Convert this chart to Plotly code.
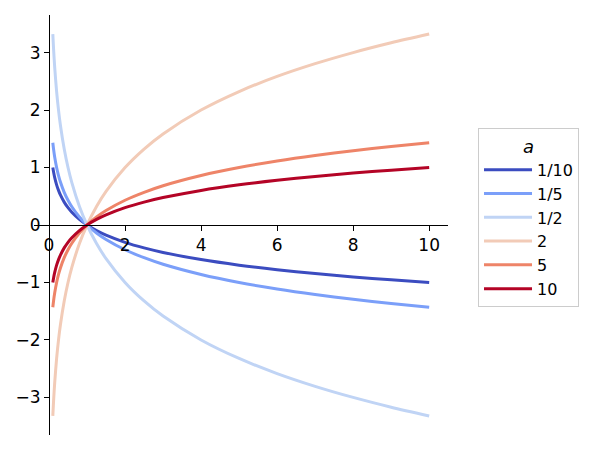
import plotly.graph_objects as go

# x sample positions
x_vals = [0.1, 0.12, 0.15, 0.2, 0.25, 0.3, 0.4, 0.5, 0.6, 0.8, 1, 1.25, 1.5, 2, 2.5, 3, 4, 5, 6, 7, 8, 9, 10]

# series values
y_a_1_10 = [1.000, 0.921, 0.824, 0.699, 0.602, 0.523, 0.398, 0.301, 0.222, 0.097, 0, -0.097, -0.176, -0.301, -0.398, -0.477, -0.602, -0.699, -0.778, -0.845, -0.903, -0.954, -1.000]
y_a_1_5 = [1.431, 1.317, 1.179, 1.000, 0.861, 0.748, 0.569, 0.431, 0.317, 0.139, 0, -0.139, -0.252, -0.431, -0.569, -0.683, -0.861, -1.000, -1.113, -1.209, -1.292, -1.365, -1.431]
y_a_1_2 = [3.322, 3.059, 2.737, 2.322, 2.000, 1.737, 1.322, 1.000, 0.737, 0.322, 0, -0.322, -0.585, -1.000, -1.322, -1.585, -2.000, -2.322, -2.585, -2.807, -3.000, -3.170, -3.322]
y_a_2 = [-3.322, -3.059, -2.737, -2.322, -2.000, -1.737, -1.322, -1.000, -0.737, -0.322, 0, 0.322, 0.585, 1.000, 1.322, 1.585, 2.000, 2.322, 2.585, 2.807, 3.000, 3.170, 3.322]
y_a_5 = [-1.431, -1.317, -1.179, -1.000, -0.861, -0.748, -0.569, -0.431, -0.317, -0.139, 0, 0.139, 0.252, 0.431, 0.569, 0.683, 0.861, 1.000, 1.113, 1.209, 1.292, 1.365, 1.431]
y_a_10 = [-1.000, -0.921, -0.824, -0.699, -0.602, -0.523, -0.398, -0.301, -0.222, -0.097, 0, 0.097, 0.176, 0.301, 0.398, 0.477, 0.602, 0.699, 0.778, 0.845, 0.903, 0.954, 1.000]

series_names = ["1/10", "1/5", "1/2", "2", "5", "10"]
series_values = [y_a_1_10, y_a_1_5, y_a_1_2, y_a_2, y_a_5, y_a_10]
series_colors = ["#3b4cc0", "#7b9ff9", "#c0d4f5", "#f2cbb7", "#ee8468", "#b40426"]

x_ticks = [0, 2, 4, 6, 8, 10]
y_ticks = [-3, -2, -1, 0, 1, 2, 3]

x_range = [-0.395, 10.495]
y_range = [-3.654, 3.654]

fig = go.Figure()
for name, ys, col in zip(series_names, series_values, series_colors):
    fig.add_trace(go.Scatter(
        x=x_vals, y=ys, mode="lines", name=name,
        line=dict(color=col, width=3, shape="spline", smoothing=0.8),
    ))

font = dict(family="DejaVu Sans", size=17, color="black")
legend_font = dict(family="DejaVu Sans", size=16, color="black")
y_pos = (0 - x_range[0]) / (x_range[1] - x_range[0])

fig.update_layout(
    width=600, height=450,
    margin=dict(l=26, r=160, t=7, b=23, autoexpand=False),
    plot_bgcolor="white", paper_bgcolor="white",
    font=font,
    showlegend=True,
    legend=dict(
        title=dict(text="<i>a</i>", side="top center", font=dict(family="DejaVu Sans", size=18)),
        x=1.0725, xanchor="left", y=0.517, yanchor="middle",
        bordercolor="#cccccc", borderwidth=1,
        font=legend_font, tracegroupgap=0, itemwidth=48,
    ),
    xaxis=dict(
        range=x_range, domain=[0, 1], anchor="free", position=0.5, automargin=False,
        tickvals=x_ticks, ticks="outside", ticklen=5, tickwidth=1, tickcolor="black",
        showline=True, linecolor="black", linewidth=1,
        showgrid=False, zeroline=False, tickfont=font,
    ),
    yaxis=dict(
        range=y_range, domain=[0, 1], anchor="free", position=y_pos, automargin=False,
        tickvals=y_ticks, ticks="outside", ticklen=5, tickwidth=1, tickcolor="black",
        showline=True, linecolor="black", linewidth=1,
        showgrid=False, zeroline=False, tickfont=font,
    ),
)

fig.write_html("out.html")
